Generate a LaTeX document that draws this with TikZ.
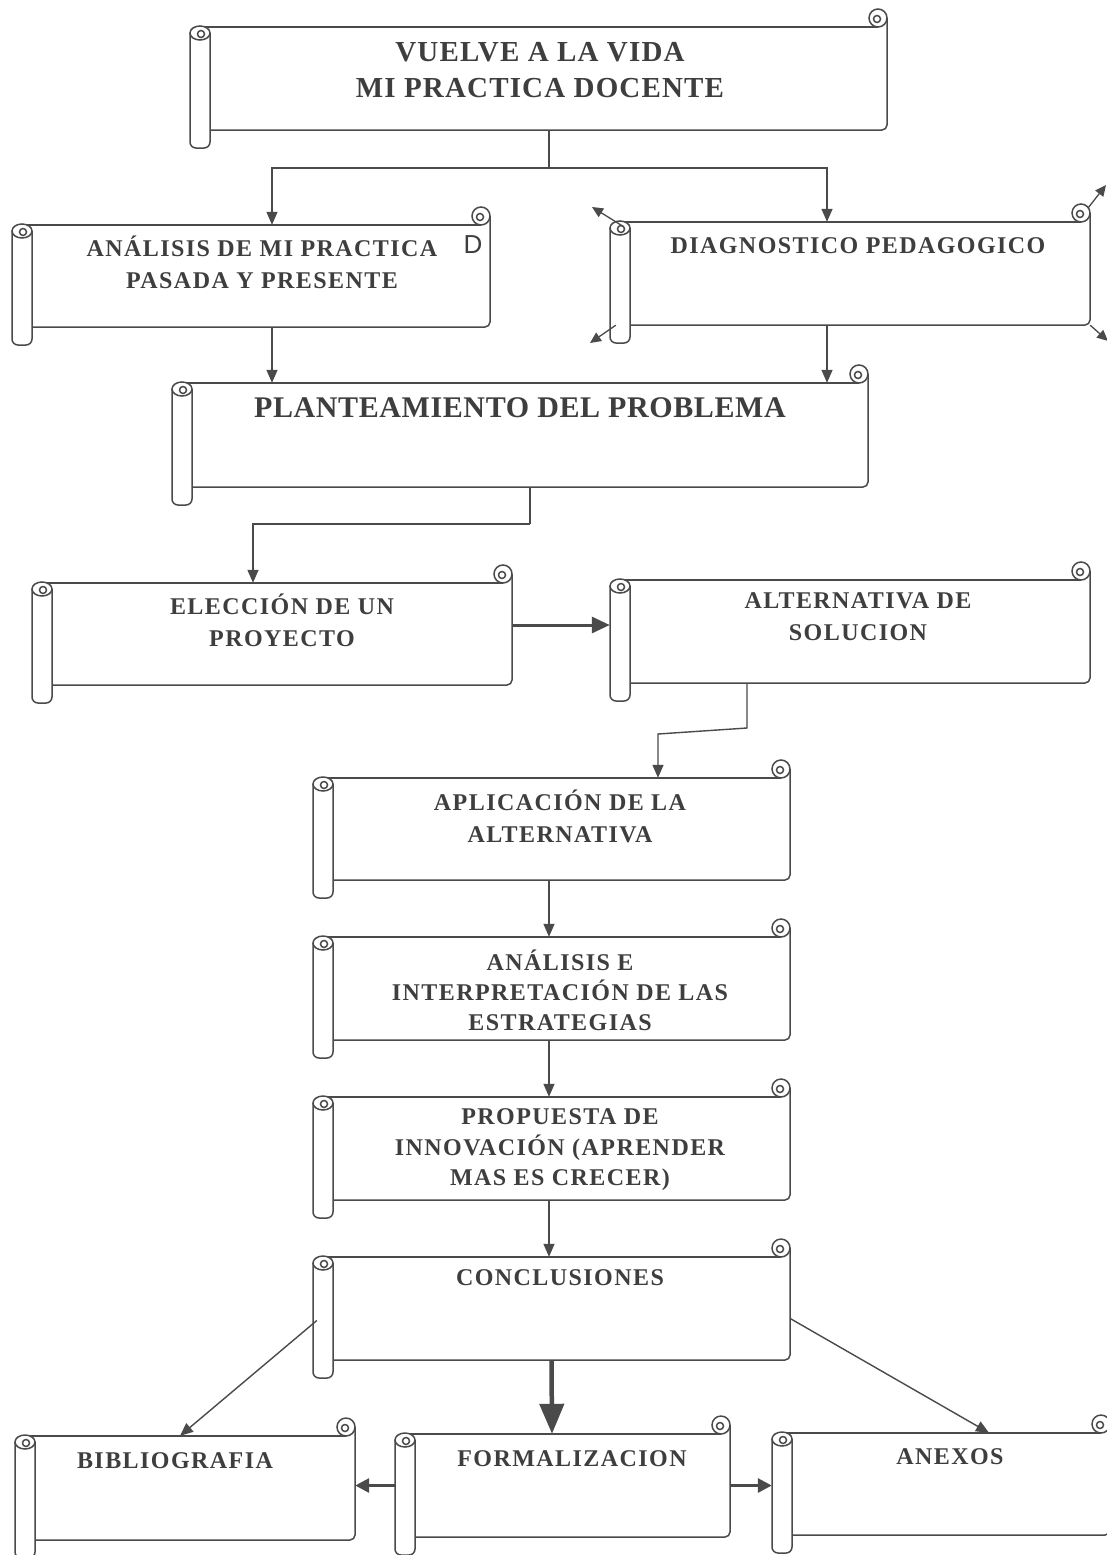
\documentclass[tikz,border=0pt]{standalone}
\usepackage{fontspec}
\setmainfont{Liberation Serif}
\newfontfamily\sansD{Liberation Sans}
\newfontfamily\lsA[LetterSpace=6]{Liberation Serif}
\newfontfamily\lsB[LetterSpace=4]{Liberation Serif}
\newfontfamily\lsC[LetterSpace=2]{Liberation Serif}
\usetikzlibrary{arrows.meta,fit,calc}
\definecolor{ink}{HTML}{4A4A4A}
\definecolor{txtc}{HTML}{3E3E3E}
\tikzset{
  scr/.style={draw=ink, line width=1.5pt},
  arr/.style={draw=ink, line width=1.4pt, -{Triangle[length=13pt,width=11pt]}},
  thickarr/.style={draw=ink, line width=3pt, -{Triangle[length=18pt,width=16pt]}},
  bigarr/.style={draw=ink, line width=4.5pt, -{Triangle[length=30pt,width=24pt]}},
  cornerarr/.style={draw=ink, line width=1.3pt, -{Triangle[length=11pt,width=10pt]}},
  lbl/.style={text=txtc, align=center, inner sep=0pt, font=\lsA\fontsize{24}{32}\selectfont\bfseries},
}
\newcommand\scrollbox[5]{%
  \node[fit={(#2,#3) (#4,#5)}, inner sep=0pt] (#1) {};
  \draw[scr] (#2+10,#3) -- (#4-9,#3);
  \draw[scr] (#4-9,#3-9) circle (9pt);
  \draw[scr] (#4-10,#3-8) circle (3.5pt);
  \draw[scr, rounded corners=5pt] (#4,#3-9) -- (#4,#5) -- (#2+20,#5);
  \draw[scr, fill=white, rounded corners=6pt] (#2,#3+6) -- (#2,#5+18) -- (#2+20,#5+18) -- (#2+20,#3+6);
  \draw[scr, fill=white] (#2+10,#3+6) ellipse (10pt and 7pt);
  \draw[scr] (#2+11,#3+7) circle (3.5pt);
}
\begin{document}
\begin{tikzpicture}[x=1pt,y=-1pt]
\useasboundingbox[fill=white] (0,0) rectangle (1106,1555);

\scrollbox{b1}{190}{27}{887}{130}
\scrollbox{b2}{12}{225}{490}{327}
\scrollbox{b3}{610}{222}{1090}{325}
\scrollbox{b4}{172}{383}{868}{487}
\scrollbox{b5}{32}{583}{512}{685}
\scrollbox{b6}{610}{580}{1090}{683}
\scrollbox{b7}{313}{778}{790}{880}
\scrollbox{b8}{313}{937}{790}{1040}
\scrollbox{b9}{313}{1097}{790}{1200}
\scrollbox{b10}{313}{1257}{790}{1360}
\scrollbox{b11}{15}{1436}{355}{1540}
\scrollbox{b12}{395}{1434}{730}{1537}
\scrollbox{b13}{772}{1433}{1110}{1535}

% labels
\node[lbl, font=\lsB\fontsize{29}{36}\selectfont\bfseries] (t1) at (540,70) {VUELVE A LA VIDA\\MI PRACTICA DOCENTE};
\node[lbl] (t2) at (262,262) {ANÁLISIS DE MI PRACTICA\\PASADA Y PRESENTE};
\node[text=txtc, inner sep=0pt, font=\fontsize{26}{30}\selectfont\sansD] (t2d) at (473,245) {D};
\node[lbl] (t3) at (858,246) {DIAGNOSTICO PEDAGOGICO};
\node[lbl, font=\lsC\fontsize{30}{34}\selectfont\bfseries] (t4) at (520,408) {PLANTEAMIENTO DEL PROBLEMA};
\node[lbl] (t5) at (282,620) {ELECCIÓN DE UN\\PROYECTO};
\node[lbl] (t6) at (858,617) {ALTERNATIVA DE\\SOLUCION};
\node[lbl] (t7) at (560,816) {APLICACIÓN DE LA\\ALTERNATIVA};
\node[lbl, font=\lsA\fontsize{24}{30}\selectfont\bfseries] (t8) at (560,990) {ANÁLISIS E\\INTERPRETACIÓN DE LAS\\ESTRATEGIAS};
\node[lbl, font=\lsA\fontsize{24}{30.5}\selectfont\bfseries] (t9) at (560,1150) {PROPUESTA DE\\INNOVACIÓN (APRENDER\\MAS ES CRECER)};
\node[lbl] (t10) at (560,1278) {CONCLUSIONES};
\node[lbl] (t11) at (175,1461) {BIBLIOGRAFIA};
\node[lbl] (t12) at (572,1459) {FORMALIZACION};
\node[lbl] (t13) at (950,1457) {ANEXOS};

% connectors
\coordinate (j1) at (549,168);
\draw[scr] ([xshift=10.5pt]b1.south) -- (j1);
\draw[arr] (j1) -| ([xshift=21pt]b2.north);
\draw[arr] (j1) -| ([xshift=-23pt]b3.north);
\draw[arr] ([xshift=21pt]b2.south) -- ([xshift=-248pt]b4.north);
\draw[arr] ([xshift=-23pt]b3.south) -- ([xshift=307pt]b4.north);

% corner arrows of diagnostico
\coordinate (d1) at (592,207);
\coordinate (d2) at (590,343);
\coordinate (d3) at (1106,185);
\coordinate (d4) at (1108,341);
\draw[cornerarr] ([xshift=14pt,yshift=-5pt]b3.north west) -- (d1);
\draw[cornerarr] ([xshift=6pt]b3.south west) -- (d2);
\draw[cornerarr] ([xshift=-2pt,yshift=14pt]b3.north east) -- (d3);
\draw[cornerarr] (b3.south east) -- (d4);

\coordinate (j2) at (530,524);
\draw[scr] ([xshift=10pt]b4.south) -- (j2);
\draw[arr] (j2) -| ([xshift=-19pt]b5.north);

\draw[thickarr] ([yshift=9pt]b5.east) -- ([yshift=9pt]b5.east -| b6.west);

\coordinate (e1) at (747,728);
\coordinate (e2) at (658,734);
\draw[arr] ([xshift=-103pt]b6.south) -- (e1) -- (e2) -- ([xshift=106.5pt]b7.north);

\draw[arr] ([xshift=-2.5pt]b7.south) -- ([xshift=-2.5pt]b8.north);
\draw[arr] ([xshift=-2.5pt]b8.south) -- ([xshift=-2.5pt]b9.north);
\draw[arr] ([xshift=-2.5pt]b9.south) -- ([xshift=-2.5pt]b10.north);

\draw[arr] ([xshift=4pt,yshift=-12pt]b10.west) -- ([xshift=-5pt]b11.north);
\draw[bigarr] (b10.south) -- ([xshift=-10.5pt]b12.north);
\draw[arr] ([yshift=-10pt]b10.east) -- ([xshift=48pt]b13.north);

\draw[draw=ink, line width=3pt, -{Triangle[length=14pt,width=14pt]}] (b12.west) -- (b12.west -| b11.east);
\draw[draw=ink, line width=3pt, -{Triangle[length=14pt,width=14pt]}] (b12.east) -- (b12.east -| b13.west);
\end{tikzpicture}
\end{document}
